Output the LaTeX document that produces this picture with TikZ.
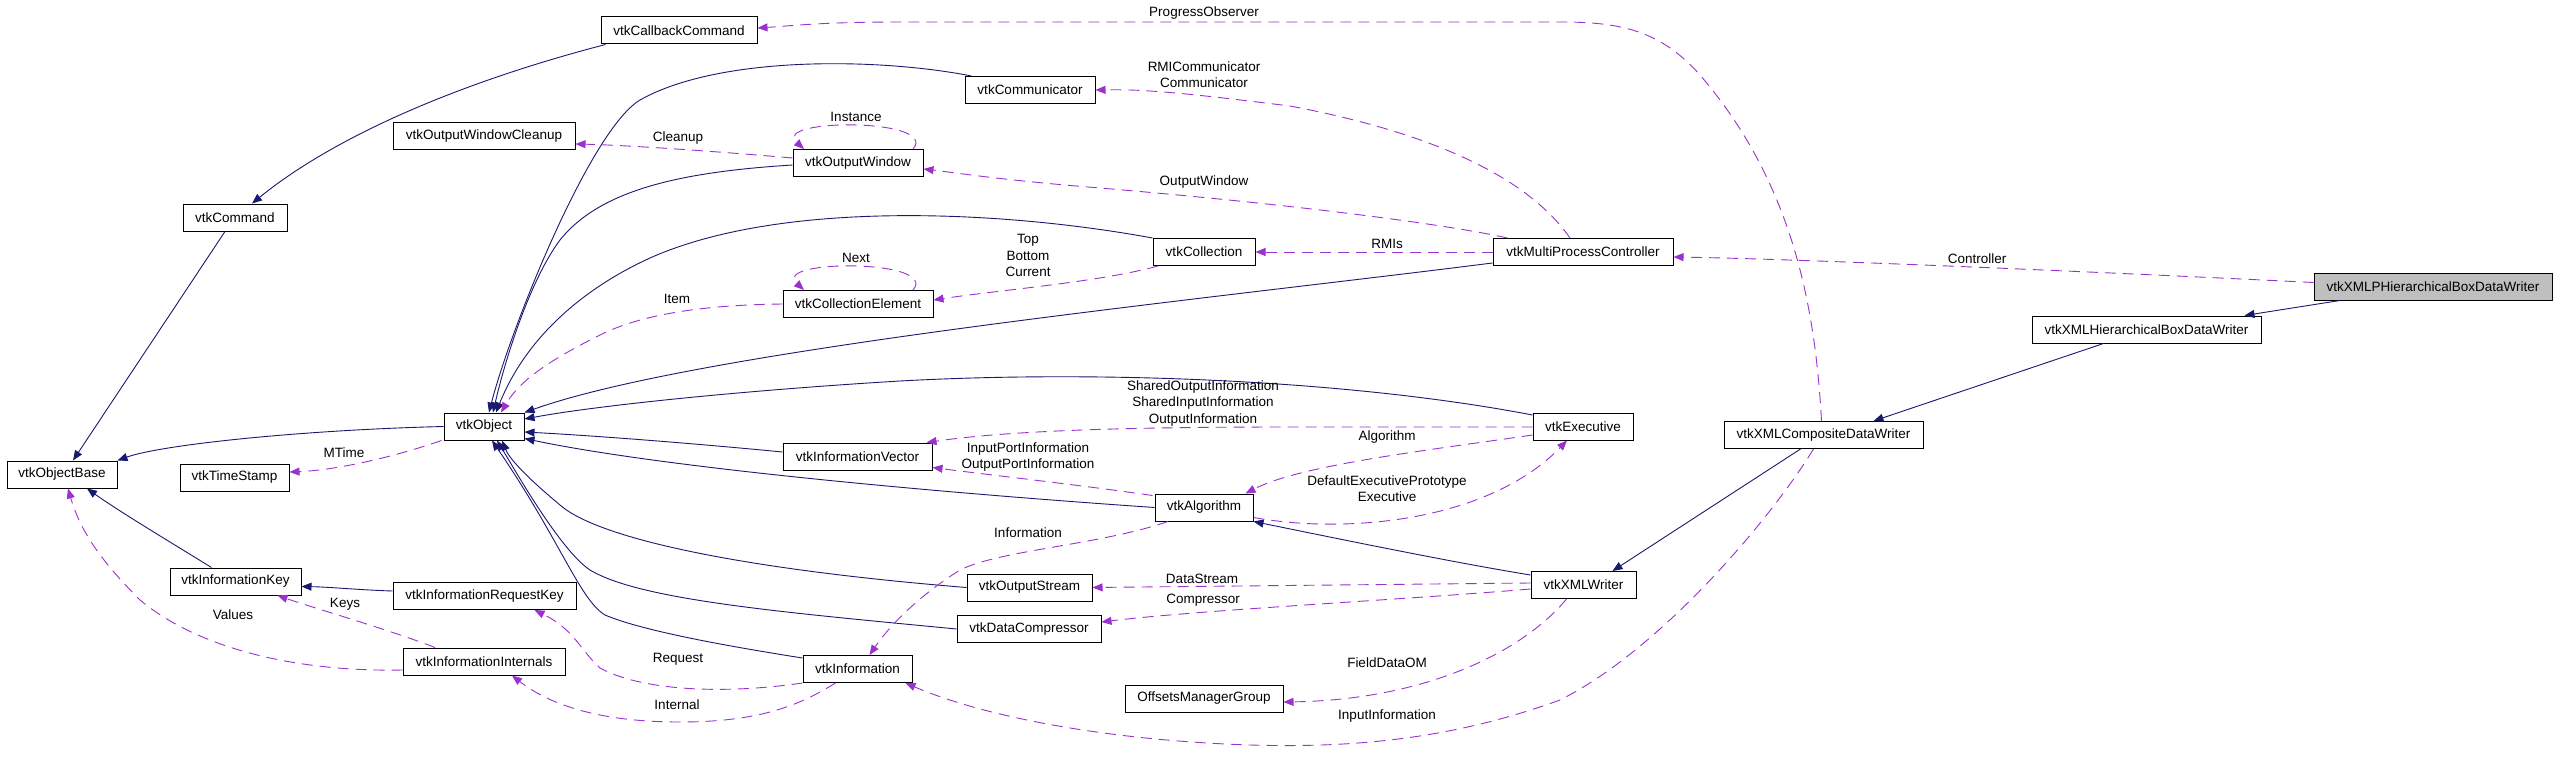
\documentclass[tikz,border=0pt]{standalone}
\usepackage{fontspec}
\setmainfont{Liberation Sans}
\usetikzlibrary{arrows.meta}
\definecolor{inh}{HTML}{191970}
\definecolor{use}{HTML}{9A32CD}
\begin{document}
\begin{tikzpicture}[x=1pt,y=-1pt,
  cls/.style={draw=black, line width=1pt, minimum height=27pt, inner sep=0pt, font=\fontsize{13.5}{16}\selectfont},
  lbl/.style={inner sep=0pt, align=center, font=\fontsize{13.5}{16.3}\selectfont},
  inhline/.style={draw=inh, line width=0.9pt, -{Triangle[length=10pt,width=8pt]}, color=inh},
  useline/.style={draw=use, line width=0.9pt, dash pattern=on 11pt off 7pt, -{Triangle[length=10pt,width=8pt]}, color=use}]
\useasboundingbox[fill=white] (0,0) rectangle (2557,781);

% classes
\node[cls, minimum width=156pt] (cbc) at (679,30.5) {vtkCallbackCommand};
\node[cls, minimum width=182pt] (owc) at (484,136) {vtkOutputWindowCleanup};
\node[cls, minimum width=104pt] (cmd) at (235,217.5) {vtkCommand};
\node[cls, minimum width=80pt] (obj) at (484,426.5) {vtkObject};
\node[cls, minimum width=110pt] (ob) at (62,474.5) {vtkObjectBase};
\node[cls, minimum width=109pt] (ts) at (234.5,477.5) {vtkTimeStamp};
\node[cls, minimum width=131pt] (ik) at (235.5,581.5) {vtkInformationKey};
\node[cls, minimum width=183pt] (irk) at (484.5,596) {vtkInformationRequestKey};
\node[cls, minimum width=162pt] (ii) at (484,661.5) {vtkInformationInternals};
\node[cls, minimum width=130pt] (comm) at (1030,90) {vtkCommunicator};
\node[cls, minimum width=130pt] (ow) at (858,163) {vtkOutputWindow};
\node[cls, minimum width=102pt] (coll) at (1204,252) {vtkCollection};
\node[cls, minimum width=150pt] (ce) at (858,304) {vtkCollectionElement};
\node[cls, minimum width=149pt] (iv) at (857.5,456.5) {vtkInformationVector};
\node[cls, minimum width=98pt] (alg) at (1204,507.5) {vtkAlgorithm};
\node[cls, minimum width=125pt] (os) at (1029.5,587.5) {vtkOutputStream};
\node[cls, minimum width=144pt] (dc) at (1029,629) {vtkDataCompressor};
\node[cls, minimum width=109pt] (inf) at (857.5,669) {vtkInformation};
\node[cls, minimum width=158pt] (omg) at (1204,698.5) {OffsetsManagerGroup};
\node[cls, minimum width=180pt] (mpc) at (1583,252) {vtkMultiProcessController};
\node[cls, minimum width=100pt] (exe) at (1583,426.5) {vtkExecutive};
\node[cls, minimum width=199pt] (xcw) at (1823.5,435) {vtkXMLCompositeDataWriter};
\node[cls, minimum width=105pt] (xw) at (1583.5,585) {vtkXMLWriter};
\node[cls, minimum width=238pt, fill={rgb,255:red,191;green,191;blue,191}] (xpw) at (2433,286.5) {vtkXMLPHierarchicalBoxDataWriter};
\node[cls, minimum width=229pt] (xhw) at (2146.5,329.5) {vtkXMLHierarchicalBoxDataWriter};

% inheritance edges
\draw[inhline] ([xshift=5pt]cbc.south west) .. controls (450,85) and (330,140) .. ([xshift=17pt]cmd.north);
\draw[inhline] ([xshift=-10pt]cmd.south) -- ([xshift=11pt]ob.north);
\draw[inhline] (obj.west) .. controls (300,430) and (160,445) .. (ob.north east);
\draw[inhline] ([xshift=-24pt]ik.north) .. controls (180,548) and (120,512) .. ([xshift=25pt]ob.south);
\draw[inhline] ([yshift=5pt]irk.west) .. controls (360,590) and (330,587) .. ([yshift=-5pt]ik.east);
\draw[inhline] ([xshift=7pt]comm.north west) .. controls (880,58) and (720,55) .. (640,100) .. controls (590,130) and (510,330) .. ([xshift=5pt]obj.north);
\draw[inhline] ([yshift=-2pt]ow.west) .. controls (680,172) and (600,190) .. (560,240) .. controls (530,280) and (505,360) .. ([xshift=9pt]obj.north);
\draw[inhline] (coll.north west) .. controls (1000,210) and (780,200) .. (650,258) .. controls (580,290) and (525,340) .. ([xshift=12pt]obj.north);
\draw[inhline] ([yshift=-11pt]mpc.west) .. controls (1200,300) and (700,350) .. (obj.north east);
\draw[inhline] ([yshift=11.5pt]exe.west) .. controls (1350,380) and (1100,370) .. (900,381) .. controls (750,390) and (600,405) .. ([yshift=7.5pt]obj.east);
\draw[inhline] ([yshift=4.5pt]iv.west) .. controls (700,444) and (600,436) .. ([yshift=-5.5pt]obj.east);
\draw[inhline] (alg.west) .. controls (900,490) and (650,465) .. ([yshift=-12pt]obj.east);
\draw[inhline] (os.west) .. controls (750,570) and (600,540) .. (560,505) .. controls (530,480) and (510,460) .. ([xshift=18pt]obj.south);
\draw[inhline] (dc.west) .. controls (780,612) and (640,600) .. (590,570) .. controls (560,550) and (515,470) .. ([xshift=13pt]obj.south);
\draw[inhline] ([yshift=11pt]inf.west) .. controls (720,645) and (640,630) .. (605,615) .. controls (580,600) and (560,540) .. ([xshift=8pt]obj.south);
\draw[inhline] ([yshift=10pt]xw.west) .. controls (1450,562) and (1320,535) .. (alg.south east);
\draw[inhline] ([xshift=-93pt]xpw.south) -- ([xshift=98pt]xhw.north);
\draw[inhline] ([xshift=-43pt]xhw.south) -- ([xshift=50pt]xcw.north);
\draw[inhline] ([xshift=-23pt]xcw.south) -- ([xshift=29pt]xw.north);

% usage edges
\draw[useline] ([xshift=-2pt]xcw.north) .. controls (1815,300) and (1790,180) .. (1700,75) .. controls (1660,30) and (1620,22) .. (1560,22) -- (900,22) .. controls (820,22) and (790,26) .. ([yshift=2.5pt]cbc.east);
\draw[useline] ([xshift=-13pt]mpc.north) .. controls (1540,195) and (1470,140) .. (1290,106) .. controls (1200,95) and (1150,89) .. (comm.east);
\draw[useline] ([xshift=15pt]mpc.north west) .. controls (1450,225) and (1300,205) .. (1100,188) .. controls (1000,180) and (950,172) .. ([yshift=-6pt]ow.east);
\draw[useline] (mpc.west) -- (coll.east);
\draw[useline] ([yshift=4pt]xpw.west) .. controls (2100,272) and (1800,259) .. ([yshift=-5pt]mpc.east);
\draw[useline] ([yshift=5pt]ow.west) .. controls (700,150) and (620,145) .. ([yshift=-8pt]owc.east);
\draw[useline] ([xshift=55pt]ow.north) .. controls (940,118) and (770,118) .. ([xshift=-54pt]ow.north);
\draw[useline] ([xshift=-46pt]coll.south) .. controls (1100,282) and (1000,290) .. ([yshift=4pt]ce.east);
\draw[useline] ([xshift=55pt]ce.north) .. controls (940,259) and (770,259) .. ([xshift=-54pt]ce.north);
\draw[useline] (ce.west) .. controls (700,305) and (640,315) .. (600,335) .. controls (550,360) and (520,380) .. ([xshift=17pt]obj.north);
\draw[useline] ([xshift=-2pt]obj.south west) .. controls (400,455) and (340,470) .. ([yshift=5.5pt]ts.east);
\draw[useline] ([yshift=-0.5pt]exe.west) -- (1290,427) .. controls (1100,427) and (1000,432) .. ([xshift=-6pt]iv.north east);
\draw[useline] ([yshift=-8.5pt]exe.west) .. controls (1430,450) and (1300,465) .. ([xshift=-8pt]alg.north east);
\draw[useline] ([yshift=-10pt]alg.east) .. controls (1350,535) and (1490,520) .. ([xshift=-16pt]exe.south);
\draw[useline] ([xshift=-2pt,yshift=-2pt]alg.north west) .. controls (1080,485) and (990,475) .. ([yshift=-11pt]iv.east);
\draw[useline] ([xshift=-36pt]alg.south) .. controls (1100,545) and (1000,550) .. (960,570) .. controls (920,595) and (890,625) .. ([xshift=12pt]inf.north);
\draw[useline] ([yshift=2pt]xw.west) -- (os.east);
\draw[useline] ([yshift=-4pt]xw.west) .. controls (1400,600) and (1200,610) .. ([yshift=7pt]dc.east);
\draw[useline] ([xshift=-17pt]xw.south) .. controls (1520,655) and (1420,700) .. ([yshift=-3.5pt]omg.east);
\draw[useline] ([xshift=-10pt]xcw.south) .. controls (1770,520) and (1660,650) .. (1560,700) .. controls (1450,740) and (1350,748) .. (1250,745) .. controls (1100,740) and (980,715) .. ([xshift=48pt]inf.south);
\draw[useline] (inf.south west) .. controls (720,695) and (640,690) .. (600,668) .. controls (580,650) and (575,630) .. ([xshift=50pt]irk.south);
\draw[useline] ([xshift=-22pt]inf.south) .. controls (800,705) and (760,722) .. (680,722) .. controls (600,722) and (550,705) .. ([xshift=28pt]ii.south);
\draw[useline] ([xshift=-49pt]ii.north) .. controls (390,630) and (320,610) .. ([xshift=42pt]ik.south);
\draw[useline] ([yshift=-8.5pt]ii.west) .. controls (300,672) and (200,650) .. (140,600) .. controls (100,560) and (80,530) .. ([xshift=6pt]ob.south);

% labels
\node[lbl] (l1) at (1204,13) {ProgressObserver};
\node[lbl] (l2) at (1204,74.5) {RMICommunicator\\Communicator};
\node[lbl] (l3) at (856,117) {Instance};
\node[lbl] (l4) at (678,138) {Cleanup};
\node[lbl] (l5) at (1204,182) {OutputWindow};
\node[lbl] (l6) at (1028,255.5) {Top\\Bottom\\Current};
\node[lbl] (l7) at (856,258) {Next};
\node[lbl] (l8) at (677,299) {Item};
\node[lbl] (l9) at (1387,244) {RMIs};
\node[lbl] (l10) at (1977,259) {Controller};
\node[lbl] (l11) at (1203,403.5) {SharedOutputInformation\\SharedInputInformation\\OutputInformation};
\node[lbl] (l12) at (1387,437) {Algorithm};
\node[lbl] (l13) at (1028,457) {InputPortInformation\\OutputPortInformation};
\node[lbl] (l14) at (344,453) {MTime};
\node[lbl] (l15) at (1387,489) {DefaultExecutivePrototype\\Executive};
\node[lbl] (l16) at (1028,533) {Information};
\node[lbl] (l17) at (1202,579) {DataStream};
\node[lbl] (l18) at (1203,600) {Compressor};
\node[lbl] (l19) at (345,604) {Keys};
\node[lbl] (l20) at (233,615) {Values};
\node[lbl] (l21) at (678,659) {Request};
\node[lbl] (l22) at (1387,663) {FieldDataOM};
\node[lbl] (l23) at (677,705) {Internal};
\node[lbl] (l24) at (1387,716) {InputInformation};
\end{tikzpicture}
\end{document}
